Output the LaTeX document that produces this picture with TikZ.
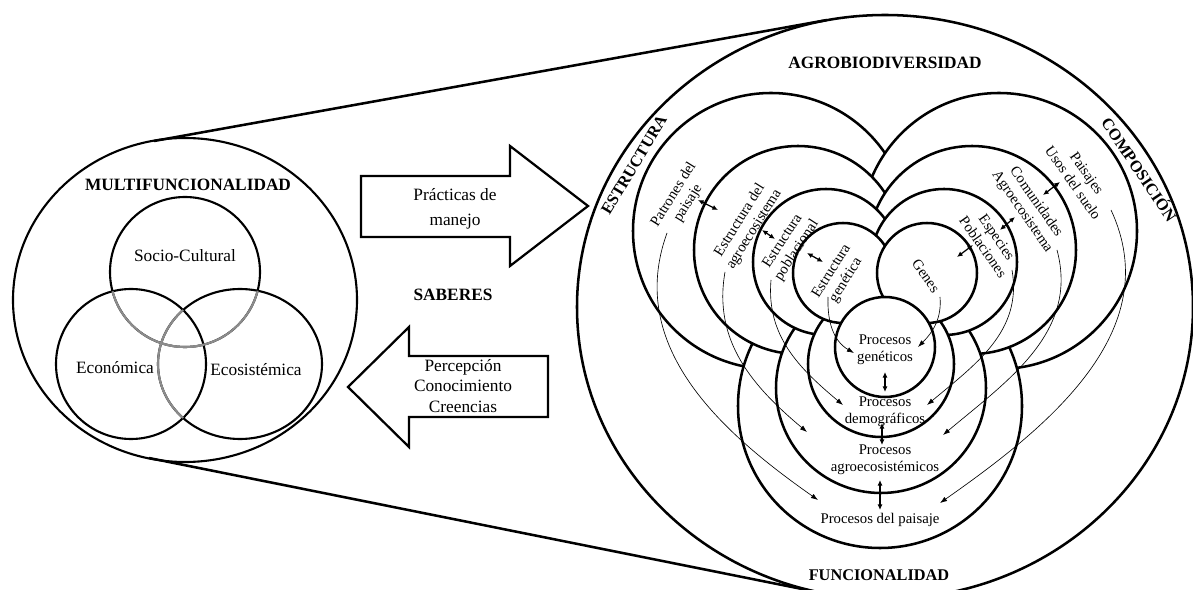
\documentclass[tikz,border=0pt]{standalone}
\usepackage{fontspec}
\setmainfont{Liberation Serif}
\usetikzlibrary{arrows.meta,positioning}

\begin{document}
\begin{tikzpicture}[
    x=0.025cm, y=0.025cm,
    lobe/.style={draw=black,line width=1.8pt,fill=white},
    outline/.style={draw=black,line width=1.8pt},
    venn/.style={draw=black,line width=1.5pt},
    vennlt/.style={draw=black!45,line width=1.5pt},
    blockarr/.style={draw=black,line width=1.6pt,line join=miter,fill=white},
    hdr/.style={font=\fontsize{12.3}{14}\selectfont\bfseries},
    hdrsm/.style={font=\fontsize{11.6}{14}\selectfont\bfseries},
    lbl/.style={font=\fontsize{12.3}{14.5}\selectfont,align=center},
    sublbl/.style={font=\fontsize{10.5}{12}\selectfont,align=center,inner sep=1pt},
    lnk/.style={line width=0.45pt,-{Latex[length=5pt,width=3.5pt]}},
    dbl/.style={line width=0.9pt,{Latex[length=4pt,width=3.6pt]}-{Latex[length=4pt,width=3.6pt]}},
  ]

  \useasboundingbox (0,0) rectangle (1193,-590);
  \clip (0,0) rectangle (1193,-590);

  % ============================================================= LEFT
  % multifunctionality ellipse with its three overlapping dimensions
  \draw[venn] (185,-300) ellipse [x radius=172, y radius=162];
  \def\socio{(185,-272) circle [radius=75]}
  \def\econ{(131,-364) circle [radius=75]}
  \def\ecos{(240,-364) ellipse [x radius=82, y radius=75]}
  \draw[venn] \socio \econ \ecos;
  % overlapping arcs are drawn in grey
  \begin{scope}
    \clip \econ;
    \draw[vennlt] \socio \ecos;
  \end{scope}
  \begin{scope}
    \clip \ecos;
    \draw[vennlt] \socio;
  \end{scope}

  \node[hdr] (multi) at (188,-185) {MULTIFUNCIONALIDAD};
  \node[lbl] (soc) at (185,-256) {Socio-Cultural};
  \node[lbl] (eco) at (115,-368) {Económica};
  \node[lbl] (ecs) at (256,-370) {Ecosistémica};

  % zoom lines towards the agrobiodiversity circle
  \draw[outline] (154,-141) -- (827,-20);
  \draw[outline] (149,-458) -- (822,-593);

  % ============================================================= MIDDLE
  \draw[blockarr] (361,-176) -- (510,-176) -- (510,-146) -- (588,-206)
    -- (510,-266) -- (510,-237) -- (361,-237) -- cycle;
  \draw[blockarr] (548,-356) -- (409,-356) -- (409,-327) -- (348,-387)
    -- (409,-447) -- (409,-417) -- (548,-417) -- cycle;
  \node[lbl] (prac) at (455,-209) {Prácticas de\\[3pt]manejo};
  \node[lbl] (perc) at (463,-386) {Percepción\\Conocimiento\\Creencias};
  \node[hdr] (sab) at (453,-295) {SABERES};

  % ============================================================= RIGHT
  \draw[outline] (885,-307) ellipse [x radius=308, y radius=292];

  % nested lobes, outer to inner: structure, composition, function
  % #1 x  #2 y  #3 radius (structure; composition mirrored at x=885)
  % #4 x  #5 y  #6 radius (function)
  \foreach \sx/\sy/\r/\fx/\fy/\fr in {
      771/231/138/880/406/142, 798/250/104/881/388/105,
      826/262/73/881/364/73,   843/273/50/885/347/50}{
    \pgfmathsetmacro\cx{1770-\sx}
    \filldraw[lobe] (\sx,-\sy) circle [radius=\r];
    \filldraw[lobe] (\cx,-\sy) circle [radius=\r];
    \filldraw[lobe] (\fx,-\fy) circle [radius=\fr];
  }

  % --- titles ---
  \node[hdr] (agro) at (885,-63) {AGROBIODIVERSIDAD};
  \node[hdrsm,rotate=59] (estr) at (634,-165) {ESTRUCTURA};
  \node[hdrsm,rotate=-56] (comp) at (1140,-169) {COMPOSICIÓN};
  \node[hdrsm] (func) at (879,-575) {FUNCIONALIDAD};

  % --- structure ---
  \node[sublbl,rotate=58] (pat) at (681,-199) {Patrones del\\paisaje};
  \node[sublbl,rotate=58] (eag) at (747,-225) {Estructura del\\agroecosistema};
  \node[sublbl,rotate=57] (epo) at (790,-246) {Estructura\\poblacional};
  \node[sublbl,rotate=58] (egn) at (839,-276) {Estructura\\genética};

  % --- composition ---
  \node[sublbl,rotate=-55] (pai) at (1080,-178) {Paisajes\\Usos del suelo};
  \node[sublbl,rotate=-55] (com) at (1029,-207) {Comunidades\\Agroecosistema};
  \node[sublbl,rotate=-55] (esp) at (990,-242) {Especies\\Poblaciones};
  \node[sublbl,rotate=-55] (gen) at (926,-276) {Genes};

  % --- function ---
  \node[sublbl] (pgn) at (885,-350) {Procesos\\genéticos};
  \node[sublbl] (pdm) at (885,-412) {Procesos\\demográficos};
  \node[sublbl] (pag) at (885,-460) {Procesos\\agroecosistémicos};
  \node[sublbl] (ppa) at (880,-520) {Procesos del paisaje};

  % --- two-way links between neighbouring levels ---
  \foreach \n/\ax/\ay/\bx/\by in {
      1/698/200/718/210, 2/762/230/775/239, 3/807/253/823/262,
      4/1060/182/1043/195, 5/1015/217/1000/230, 6/973/245/957/257,
      7/885/372/885/392, 8/882/423/882/445, 9/880/480/880/510}{
    \coordinate (d\n a) at (\ax,-\ay);
    \coordinate (d\n b) at (\bx,-\by);
    \draw[dbl] (d\n a) -- (d\n b);
  }

  % --- thin links from structure / composition to function ---
  \foreach \n/\ax/\ay/\bx/\by/\o/\i in {
      1/667/233/818/500/250/145, 2/725/272/807/432/260/140,
      3/771/280/843/405/265/140, 4/828/297/854/353/268/150,
      5/940/297/918/347/275/45,  6/1012/270/927/405/280/40,
      7/1057/250/943/435/285/40, 8/1111/210/940/503/295/35}{
    \coordinate (t\n a) at (\ax,-\ay);
    \coordinate (t\n b) at (\bx,-\by);
    \draw[lnk] (t\n a) to[out=\o,in=\i] (t\n b);
  }

\end{tikzpicture}
\end{document}
